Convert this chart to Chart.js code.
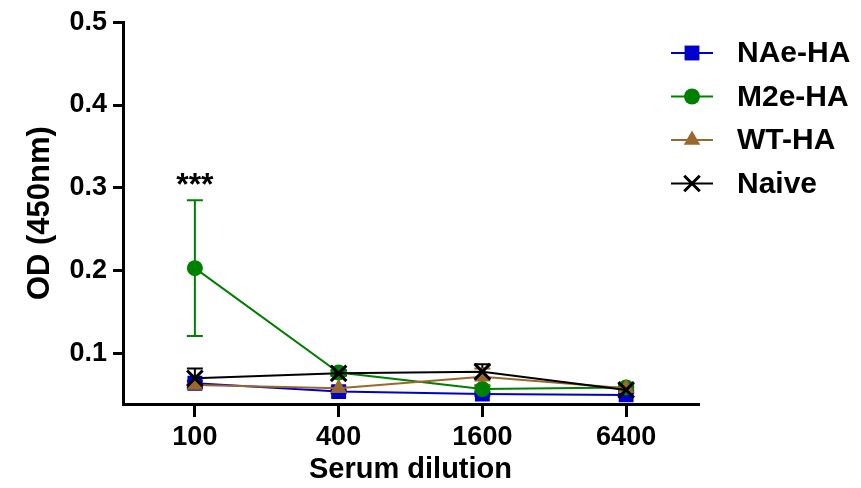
<!DOCTYPE html>
<html>
<head>
<meta charset="utf-8">
<script src="https://cdn.jsdelivr.net/npm/chart.js@4"></script>
<style>
  html, body { margin: 0; padding: 0; background: #fff; }
  #wrap { width: 861px; height: 488px; }
</style>
</head>
<body>
<div id="wrap"><canvas id="myChart" width="861" height="488"></canvas></div>
<script>
// serum dilutions on x axis
const dilutions = ['100', '400', '1600', '6400'];

// mean OD (450nm) per group
const naeHA = [0.064, 0.054, 0.051, 0.050];
const m2eHA = [0.203, 0.077, 0.057, 0.059];
const wtHA = [0.062, 0.058, 0.072, 0.058];
const naive = [0.070, 0.076, 0.078, 0.056];

// error (SEM) per group
const naeErr = [0.003, 0.002, 0.002, 0.002];
const m2eErr = [0.082, 0.003, 0.003, 0.003];
const wtErr = [0.003, 0.002, 0.010, 0.003];
const naiveErr = [0.012, 0.003, 0.009, 0.003];

const yTicks = [0.1, 0.2, 0.3, 0.4, 0.5];
const starLabel = '***';

const FONT = '"Liberation Sans", Arial, sans-serif';
Chart.defaults.font.family = FONT;
Chart.defaults.font.weight = 'bold';
Chart.defaults.color = '#000';

function drawMarker(c, style, x, y, r, color) {
    c.save();
    c.fillStyle = color;
    c.strokeStyle = color;
    c.beginPath();
    if (style === 'rect') {
        let s = r * Math.SQRT1_2;
        c.fillRect(x - s, y - s, 2 * s, 2 * s);
    } else if (style === 'circle') {
        c.arc(x, y, r, 0, Math.PI * 2);
        c.fill();
    } else if (style === 'triangle') {
        c.moveTo(x, y - r);
        c.lineTo(x + r * Math.sin(Math.PI / 3), y + r / 2);
        c.lineTo(x - r * Math.sin(Math.PI / 3), y + r / 2);
        c.closePath();
        c.fill();
    } else {
        let s = r * Math.SQRT1_2;
        c.lineWidth = 3;
        c.moveTo(x - s, y - s); c.lineTo(x + s, y + s);
        c.moveTo(x + s, y - s); c.lineTo(x - s, y + s);
        c.stroke();
    }
    c.restore();
}

const errorBars = {
    id: 'errorBars',
    beforeDatasetsDraw(chart) {
        const c = chart.ctx;
        const yScale = chart.scales.y;
        chart.data.datasets.forEach((ds, i) => {
            const meta = chart.getDatasetMeta(i);
            c.save();
            c.strokeStyle = ds.borderColor;
            c.lineWidth = 2;
            meta.data.forEach((pt, j) => {
                const v = ds.data[j], e = ds.errors[j];
                const yTop = yScale.getPixelForValue(v + e);
                const yBot = yScale.getPixelForValue(v - e);
                c.beginPath();
                c.moveTo(pt.x, yTop); c.lineTo(pt.x, yBot);
                c.moveTo(pt.x - 8, yTop); c.lineTo(pt.x + 8, yTop);
                c.moveTo(pt.x - 8, yBot); c.lineTo(pt.x + 8, yBot);
                c.stroke();
            });
            c.restore();
        });
    },
    afterDraw(chart) {
        const c = chart.ctx;
        // significance stars over M2e-HA at 100
        const meta = chart.getDatasetMeta(1);
        const ds = chart.data.datasets[1];
        const pt = meta.data[0];
        const yTop = chart.scales.y.getPixelForValue(ds.data[0] + ds.errors[0]);
        c.save();
        c.font = 'bold 32px ' + FONT;
        c.fillStyle = '#000';
        c.textAlign = 'center';
        c.textBaseline = 'middle';
        c.fillText(starLabel, pt.x, yTop - 14);
        c.restore();

        // legend: line with marker, then label
        const x0 = chart.chartArea.right - 27;
        c.save();
        c.font = 'bold 30px ' + FONT;
        c.textBaseline = 'middle';
        chart.data.datasets.forEach((d, i) => {
            const y = 53 + i * 43.5;
            c.strokeStyle = d.borderColor;
            c.lineWidth = 2;
            c.beginPath();
            c.moveTo(x0, y); c.lineTo(x0 + 42, y);
            c.stroke();
            drawMarker(c, d.pointStyle, x0 + 21, y, d.pointRadius, d.borderColor);
            c.fillStyle = '#000';
            c.fillText(d.label, x0 + 66, y + 1);
        });
        c.restore();
    }
};

const ctx = document.getElementById('myChart').getContext('2d');

const myChart = new Chart(ctx, {
    type: 'line',
    data: {
        labels: dilutions,
        datasets: [{
            label: 'NAe-HA',
            data: naeHA,
            errors: naeErr,
            borderColor: '#0000cc',
            backgroundColor: '#0000cc',
            pointStyle: 'rect',
            pointRadius: 10.5,
            order: 3
        }, {
            label: 'M2e-HA',
            data: m2eHA,
            errors: m2eErr,
            borderColor: '#008000',
            backgroundColor: '#008000',
            pointStyle: 'circle',
            pointRadius: 8,
            order: 2
        }, {
            label: 'WT-HA',
            data: wtHA,
            errors: wtErr,
            borderColor: '#99682a',
            backgroundColor: '#99682a',
            pointStyle: 'triangle',
            pointRadius: 9.5,
            order: 1
        }, {
            label: 'Naive',
            data: naive,
            errors: naiveErr,
            borderColor: '#000000',
            backgroundColor: '#000000',
            pointStyle: 'crossRot',
            pointRadius: 11,
            pointBorderWidth: 3,
            order: 0
        }]
    },
    options: {
        responsive: false,
        animation: false,
        layout: { padding: { top: 20, right: 163, left: 0, bottom: 0 } },
        elements: { line: { borderWidth: 2, tension: 0 }, point: { borderWidth: 0 } },
        plugins: { legend: { display: false }, tooltip: { enabled: false } },
        scales: {
            x: {
                offset: true,
                afterFit: s => { s.height = 84; },
                grid: { drawOnChartArea: false, drawTicks: true, tickLength: 13, color: '#000', lineWidth: 3, offset: false },
                border: { display: true, color: '#000', width: 3 },
                ticks: { font: { size: 27, weight: 'bold' }, padding: 4, color: '#000' },
                title: { display: true, text: 'Serum dilution', font: { size: 29, weight: 'bold' }, padding: { top: 0, bottom: 1 }, color: '#000' }
            },
            y: {
                min: 0.039,
                max: 0.5,
                afterFit: s => { s.width = 123; },
                afterBuildTicks: s => { s.ticks = yTicks.map(v => ({ value: v })); },
                grid: { drawOnChartArea: false, drawTicks: true, tickLength: 10, color: '#000', lineWidth: 3 },
                border: { display: true, color: '#000', width: 3 },
                ticks: { font: { size: 27, weight: 'bold' }, padding: 6, color: '#000', callback: v => v.toFixed(1) },
                title: { display: true, text: 'OD (450nm)', font: { size: 31, weight: 'bold' }, padding: { top: 22, bottom: 0 }, color: '#000' }
            }
        }
    },
    plugins: [errorBars]
});
</script>
</body>
</html>
